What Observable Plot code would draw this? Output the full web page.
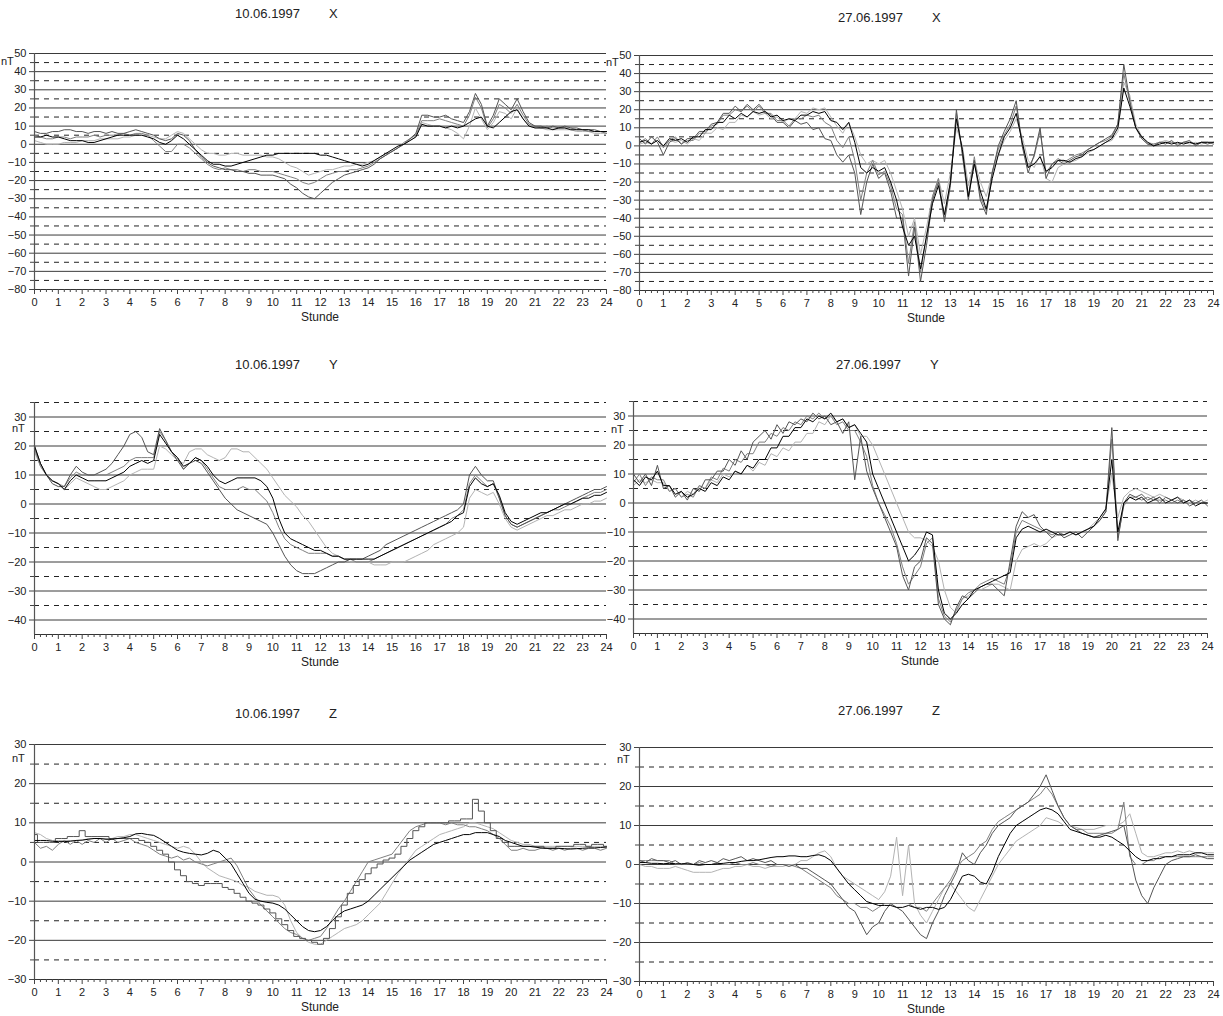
<!DOCTYPE html>
<html><head><meta charset="utf-8">
<script src="https://cdn.jsdelivr.net/npm/d3@7"></script>
<script src="https://cdn.jsdelivr.net/npm/@observablehq/plot@0.6"></script>
<style>
body{margin:0;background:#fff;}
#root{position:relative;width:1223px;height:1016px;font-family:"Liberation Sans",Arial,sans-serif;color:#222;overflow:hidden;}
.ttl{position:absolute;font-size:13px;white-space:nowrap;line-height:13px;}
.nt{position:absolute;font-size:11px;line-height:11px;}
.xl{position:absolute;font-size:12px;line-height:12px;transform:translateX(-50%);}
.pl{position:absolute;}
</style></head><body><div id="root"></div>
<script>
// ---- tick labels ----
const hourTicks = [0,1,2,3,4,5,6,7,8,9,10,11,12,13,14,15,16,17,18,19,20,21,22,23,24];
const xLabelsX = [50,40,30,20,10,0,-10,-20,-30,-40,-50,-60,-70,-80];
const xDashX = [45,35,25,15,5,-5,-15,-25,-35,-45,-55,-65,-75];
const yLabelsY = [30,20,10,0,-10,-20,-30,-40];
const yDashY = [35,25,15,5,-5,-15,-25,-35];
const zLabelsZ = [30,20,10,0,-10,-20,-30];
const zDashZ = [25,15,5,-5,-15,-25];
const seriesNames = ["Station 1","Station 2","Station 3","Station 4"];
const seriesColors = ["#000000","#555555","#808080","#b3b3b3"];

// ---- values every 15 minutes, 0..24 h ----
// 10.06.1997 X
const x1006_s1 = [4,4,5,4, 4,3,2,2, 2,1,1,2, 3,4,5,5, 5,5,5,4, 3,1,0,2, 5,3,0,-3, -6,-9,-11,-11, -12,-12,-11,-10, -9,-8,-7,-6, -6,-5,-5,-5, -5,-5,-5,-5, -6,-6,-7,-8, -9,-10,-11,-12, -11,-9,-7,-5, -3,-1,0,2, 4,11,10,10, 10,9,10,9, 10,12,14,15, 10,9,12,15, 18,19,14,10, 9,9,9,8, 9,9,8,8, 8,8,7,7, 7];
const x1006_s2 = [7,6,6,7, 7,8,8,7, 7,6,7,7, 6,7,6,6, 7,8,7,6, 5,3,2,3, 6,5,2,-3, -7,-10,-12,-13, -14,-14,-15,-15, -16,-16,-17,-17, -17,-18,-19,-22, -24,-27,-29,-30, -27,-24,-21,-19, -17,-16,-15,-14, -13,-11,-8,-6, -4,-2,0,3, 6,16,16,15, 15,16,14,13, 12,18,28,22, 10,16,25,22, 19,25,18,12, 10,10,9,10, 9,10,9,9, 8,8,8,7, 7];
const x1006_s3 = [5,4,3,3, 4,4,3,4, 4,4,5,4, 5,5,5,6, 5,6,6,5, 2,-1,-4,-4, 0,0,-2,-5, -8,-11,-13,-14, -13,-14,-14,-15, -14,-14,-15,-15, -15,-16,-17,-18, -19,-21,-22,-21, -19,-17,-16,-15, -15,-14,-14,-13, -12,-10,-8,-6, -4,-2,1,3, 5,13,13,13, 14,13,12,11, 10,16,26,20, 9,14,22,20, 17,22,16,11, 10,9,10,9, 9,9,9,8, 8,7,7,7, 6];
const x1006_s4 = [2,1,0,0, 0,1,1,1, 2,2,2,3, 3,3,3,4, 4,5,5,5, 4,3,3,5, 7,6,3,0, -3,-5,-5,-6, -6,-5,-5,-6, -6,-6,-6,-7, -7,-8,-10,-12, -13,-15,-17,-16, -15,-14,-14,-13, -12,-12,-11,-11, -10,-9,-7,-5, -4,-2,0,2, 4,12,11,10, 10,9,8,6, 3,10,20,14, 8,12,18,17, 14,20,14,10, 9,9,8,8, 8,8,8,7, 7,7,6,6, 6];
// 27.06.1997 X
const x2706_s1 = [2,3,1,3, 0,4,3,4, 2,5,5,9, 9,13,13,17, 15,18,16,19, 18,19,16,17, 14,15,14,17, 17,19,18,19, 14,13,9,13, 2,-12,-15,-12, -14,-12,-20,-30, -45,-55,-50,-68, -50,-32,-22,-38, -20,15,-2,-28, -10,-25,-35,-18, -5,5,10,18, 2,-12,-10,-6, -14,-12,-8,-8, -9,-7,-6,-3, -2,0,2,4, 10,32,22,10, 5,2,0,1, 2,1,2,1, 2,1,2,2, 2];
const x2706_s2 = [4,1,5,2, -5,2,4,1, 4,4,8,8, 12,13,18,18, 22,19,23,20, 23,19,17,13, 13,10,14,12, 13,9,10,4, 3,-5,-9,-5, -15,-38,-20,-10, -18,-15,-25,-40, -40,-72,-45,-75, -55,-30,-20,-42, -22,20,-5,-30, -8,-30,-38,-15, 0,8,15,25, 0,-15,-5,10, -18,-10,-8,-10, -8,-6,-5,-2, 0,2,4,6, 12,45,25,10, 4,1,0,2, 1,3,0,2, 3,0,2,1, 2];
const x2706_s3 = [2,4,1,5, -1,3,5,1, 3,3,7,7, 11,12,17,17, 20,19,22,19, 22,18,18,14, 14,11,15,15, 17,16,17,13, 11,3,-1,5, -8,-30,-15,-8, -16,-14,-22,-35, -38,-65,-42,-70, -50,-28,-18,-40, -20,18,-4,-28, -6,-28,-36,-14, -2,6,12,22, 2,-12,-6,8, -15,-10,-7,-9, -7,-5,-4,-2, 0,2,3,5, 12,40,24,10, 4,1,1,2, 2,2,1,2, 2,1,2,2, 1];
const x2706_s4 = [1,2,1,3, -1,3,2,3, 1,4,3,7, 7,10,9,13, 13,17,16,19, 17,18,15,16, 13,15,15,19, 18,21,20,21, 16,11,7,13, 5,-5,-10,-8, -10,-8,-15,-25, -35,-50,-40,-60, -45,-28,-18,-32, -15,10,0,-22, -8,-20,-28,-15, -5,3,8,15, 5,-8,-12,-5, -18,-20,-12,-10, -9,-8,-6,-4, -2,0,2,3, 8,35,28,12, 5,2,1,2, 3,2,1,2, 1,2,1,2, 1];
// 10.06.1997 Y
const y1006_s1 = [20,14,10,8, 7,5,8,10, 9,8,8,8, 8,9,10,11, 13,14,15,14, 15,24,21,18, 16,13,14,16, 15,13,10,8, 7,8,9,9, 9,9,8,6, 2,-5,-10,-12, -13,-14,-15,-16, -16,-17,-18,-18, -19,-19,-19,-19, -19,-19,-18,-17, -16,-15,-14,-13, -12,-11,-10,-9, -8,-7,-6,-4, -3,6,9,7, 6,7,3,-3, -6,-7,-6,-5, -4,-3,-3,-2, -1,0,0,1, 2,2,3,3, 4];
const y1006_s2 = [20,14,10,7, 6,6,10,13, 11,10,10,11, 12,14,17,20, 24,25,23,18, 17,26,22,18, 15,12,14,15, 14,11,8,5, 2,0,-2,-3, -4,-5,-6,-7, -10,-14,-18,-21, -23,-24,-24,-24, -23,-22,-21,-20, -20,-19,-19,-19, -18,-17,-16,-14, -13,-12,-11,-10, -9,-8,-7,-6, -5,-4,-3,-2, 0,10,13,10, 8,8,2,-4, -7,-8,-7,-6, -5,-4,-3,-2, -1,0,1,2, 3,4,5,5, 6];
const y1006_s3 = [19,13,10,8, 7,6,9,11, 10,10,10,10, 10,11,12,13, 15,16,16,16, 16,25,22,18, 16,12,14,16, 15,12,9,6, 5,5,5,6, 5,5,3,1, -3,-8,-12,-14, -15,-16,-17,-17, -17,-17,-18,-18, -19,-19,-20,-20, -20,-19,-18,-17, -16,-15,-14,-13, -12,-11,-10,-9, -8,-7,-5,-4, -2,7,10,8, 6,7,2,-4, -7,-8,-7,-6, -5,-4,-3,-2, -2,-1,0,1, 2,3,4,4, 5];
const y1006_s4 = [18,13,10,8, 7,5,7,9, 8,7,6,5, 5,6,7,8, 10,11,12,12, 12,20,19,17, 15,14,18,19, 19,17,16,15, 16,19,19,18, 18,16,14,12, 9,6,3,1, -1,-4,-6,-9, -12,-15,-17,-18, -19,-20,-20,-20, -20,-21,-21,-21, -20,-20,-20,-19, -18,-17,-16,-14, -13,-12,-11,-10, -8,2,5,4, 3,4,0,-5, -8,-9,-8,-7, -6,-5,-4,-4, -3,-2,-2,-1, 0,0,1,1, 2];
// 27.06.1997 Y
const y2706_s1 = [8,6,9,8, 11,6,6,3, 4,2,3,5, 4,7,6,9, 8,11,10,13, 12,15,15,19, 19,23,23,26, 26,29,28,30, 29,31,28,29, 26,27,24,21, 10,5,0,-5, -10,-15,-20,-18, -15,-10,-11,-30, -38,-40,-38,-35, -33,-30,-29,-28, -27,-26,-25,-24, -12,-9,-8,-9, -10,-9,-10,-11, -11,-10,-11,-10, -9,-8,-5,-2, 15,-10,0,2, 1,2,0,1, 2,0,1,2, 0,1,-1,0, 0];
const y2706_s2 = [10,7,10,6, 13,5,6,2, 4,1,5,4, 8,8,11,11, 15,13,18,15, 21,23,25,22, 27,24,28,27, 29,28,31,29, 30,27,28,24, 28,8,23,11, 5,0,-5,-10, -15,-25,-30,-22, -20,-12,-14,-35, -40,-42,-36,-32, -33,-31,-29,-28, -28,-30,-32,-20, -8,-3,-5,-4, -8,-10,-12,-10, -12,-11,-10,-12, -10,-8,-6,-3, 26,-13,0,3, 2,3,1,2, 0,2,1,0, 1,-1,0,1, -1];
const y2706_s3 = [7,10,6,9, 8,8,4,5, 2,3,2,6, 5,9,8,12, 11,15,14,17, 17,21,21,24, 23,26,25,28, 27,30,29,31, 29,30,27,28, 25,25,21,16, 6,0,-4,-8, -14,-22,-28,-25, -22,-14,-12,-33, -39,-41,-37,-33, -31,-30,-28,-27, -26,-27,-28,-22, -10,-6,-7,-8, -9,-10,-11,-10, -11,-10,-11,-10, -9,-8,-6,-3, 22,-12,-1,2, 2,1,2,1, 1,1,0,1, 0,1,0,0, 0];
const y2706_s4 = [6,8,7,8, 7,7,4,5, 2,4,3,6, 5,8,7,10, 9,11,10,13, 11,14,13,17, 16,19,18,21, 21,24,24,28, 27,30,28,29, 26,27,23,23, 20,15,10,5, 0,-5,-10,-12, -12,-13,-15,-20, -30,-36,-38,-33, -32,-30,-30,-29, -28,-28,-29,-30, -20,-16,-15,-14, -15,-14,-12,-11, -10,-10,-11,-10, -9,-7,-5,-2, 10,-5,2,4, 5,4,3,2, 3,2,1,2, 1,0,1,0, 1];
// 10.06.1997 Z
const z1006_s1 = [5.5,5.5,5.5,5.3, 5.2,5.2,5.3,5.5, 5.6,5.8,6,6, 5.8,5.8,6,6.2, 6.5,7.2,7.3,7, 6.8,6,5,4, 3,2.5,2.2,2, 1.8,2.2,3,2.5, 1,-0.5,-3,-5.5, -8,-9.5,-10,-10.3, -10.5,-11,-12,-13.5, -15,-16.5,-17.5,-17.8, -17.5,-16.5,-15,-13.5, -12.5,-12,-11.5,-11, -10,-8.5,-7,-5.5, -4,-2.5,-1,0.5, 1.5,2.5,3.5,4.5, 5,5.5,6,6.5, 7,7,7.5,7.5, 7.5,7,6.5,5.5, 5,4.5,4,4, 3.8,3.6,3.5,3.5, 3.5,3.4,3.3,3.4, 3.5,3.6,3.6,3.7, 3.8];
const z1006_s2 = [7,5,5,5, 6,6,6.5,6.5, 8,6.5,6.5,6.5, 6.5,6,6,6, 6,6,5.5,5, 4,3,2,0, -2,-3.5,-5,-5.5, -6,-5.5,-5.5,-5.5, -6.5,-7,-8,-9, -10,-10.5,-11,-12, -13,-14.5,-16,-17.5, -19,-19.5,-20,-20.5, -21,-19.5,-17,-14, -11,-8,-6,-4.5, -3,-1.5,-0.5,0.5, 1,2,4,6, 8,9,10,10, 10,10,10.5,10.5, 11,11,16,13, 10,8,6,5, 4,4,4,4, 4,4,3.5,3.5, 4,4,4,4.5, 4.5,4,4.5,4.5, 4];
const z1006_s3 = [5,3.5,4,3, 4.5,5.5,4.5,5.5, 4.5,5.5,5,6, 5,6,5,5.5, 6,5,4.5,4, 3,2,1.5,1, 1.5,0.5,1,0, -0.5,-1,-0.5,0, 0.5,1,-1,-4, -7,-9,-11,-12.5, -14,-15.5,-17,-18, -18.5,-19.5,-20,-19.5, -19,-17,-14.5,-12, -10,-7.5,-5,-2.5, 0,0.5,1,1.5, 2,4,6,8, 9,9.5,10,10, 10,9.5,10,9.5, 9.5,9,9,8.5, 8,7,6,4.5, 3,3,3.5,3, 3,3.5,3.5,3, 3.5,3,3.5,3.5, 3,3.5,3.5,3, 3.5];
const z1006_s4 = [7.5,7,6,5.5, 5.5,5.5,5.5,5.5, 5.5,6,6,6, 6,6,6.5,6.5, 7,7,6.5,6, 5.5,5,4.5,4, 3.5,4,3.5,2, 0,-1.5,-2.5,-3.5, -4,-4.5,-5,-6, -6.5,-7.5,-8,-8.5, -8.5,-9,-11,-15, -18,-19.5,-20.5,-21, -21,-20,-19,-18, -17,-16.5,-16,-15, -13.5,-12,-10.5,-8, -5.5,-3,-1,1, 3,4,5,6, 7,7.5,8,8.5, 9,10,10,9.5, 9,8.5,7.5,6.5, 5.5,5,4.5,4.5, 4,4,4,4, 4,4,4,4, 4,4,4,4, 4];
// 27.06.1997 Z
const z2706_s1 = [0.5,0.5,0.3,0.3, 0.2,0.3,0.2,0.2, 0.2,0,-0.2,0, 0,0.2,0.3,0.5, 0.5,0.8,1,1, 1.2,1.5,1.8,2, 2,2.2,2.2,2, 2,2.3,2.5,2, 1,-1,-3,-5, -6.5,-8,-9.5,-10, -10.5,-10.5,-10.5,-11, -11,-10.5,-11,-11.5, -11,-11,-11.5,-11, -9,-6,-3,-2.5, -3,-4.5,-5,-2, 2,5,8,10, 11,12,13,14, 14.5,14,13,11, 9,8.5,8,7.5, 7,7,7.5,7, 6,5,3.5,2, 1,1,1.5,1.5, 2,2,2.5,2.5, 2.5,3,3,2.5, 2.5];
const z2706_s2 = [1,0.5,1.5,1, 1,0.5,1,0, 0.5,0,1,0.5, 1,0.5,1.5,1, 1.5,2,1,1.5, 1,0.5,1,0, 0,-0.5,0,-1, -1,-2,-3,-4, -5,-7,-9,-11, -12,-15,-18,-16, -15,-12,-10,-11, -12,-14,-16,-18, -19,-15,-12,-8, -5,-2,3,1, 0,3,5,8, 10,11,12,14, 15,16,18,20, 23,19,15,12, 10,9,8,7.5, 7,7.5,8,8.5, 9,10,3,-4, -8,-10,-6,-3, 0,1,1.5,2, 2,2.5,2,1.5, 1.5];
const z2706_s3 = [1,1,1,1, 1,1,0,0, 0,0,0.5,0, 0,0.5,0,0, 0.5,0,0,0.5, 0,0,-0.5,0, 0,0,-0.5,-1, -2,-3,-4,-5, -6,-8,-9,-10, -10,-11,-11,-12, -11,-10,-10,-10, -10,-10,-11,-11, -12,-10,-8,-6, -4,-1,1,2, 3,5,6,9, 11,12,13,14, 15,16,17,18, 20,18,15,12, 10,9,9,8, 8,8,8,8, 9,16,2,0, 0,1,1,2, 2,2,2,2, 2,2,2,2, 2];
const z2706_s4 = [0,-0.5,-0.5,-1, -1,-1,-0.5,-1, -1.5,-2,-2,-2, -2,-1.5,-1,-1, -0.5,-0.5,0,-0.5, -0.5,-1,-0.5,-0.5, -0.5,0,0,1, 1,2,3,3.5, 2,-1,-3,-4, -5,-6,-7,-8, -9,-7,-3,7, -8,5,-10,-13, -15,-12,-9,-6, -5,-7,-9,-11, -12,-9,-6,-3, 0,2,4,6, 7,8,9,10, 12,11.5,11,10, 10,9.5,9,9, 9,9.5,10,10, 10,11,13,8, 3,2,2,2.5, 3,3,3.5,3, 3.5,3,3,3, 3];

const minorX = d3.range(0, 24.001, 0.25).filter(d => d % 1 !== 0);

const panels = [
  {series:[x1006_s1,x1006_s2,x1006_s3,x1006_s4], dom:[-80,50], labels:xLabelsX, dash:xDashX,
   left:0, top:0, w:612, h:320, ml:34, mr:6, mt:53, mb:31, date:"10.06.1997", comp:"X", dx:235, cx:329, ty:14, ntx:1, nty:62},
  {series:[x2706_s1,x2706_s2,x2706_s3,x2706_s4], dom:[-80,50], labels:xLabelsX, dash:xDashX,
   left:605, top:0, w:618, h:320, ml:34, mr:10, mt:55, mb:30, date:"27.06.1997", comp:"X", dx:838, cx:932, ty:18, ntx:606, nty:63},
  {series:[y1006_s1,y1006_s2,y1006_s3,y1006_s4], dom:[-45,35], labels:yLabelsY, dash:yDashY,
   left:0, top:330, w:612, h:340, ml:34, mr:6, mt:72, mb:36, date:"10.06.1997", comp:"Y", dx:235, cx:329, ty:365, ntx:12, nty:429},
  {series:[y2706_s1,y2706_s2,y2706_s3,y2706_s4], dom:[-45,35], labels:yLabelsY, dash:yDashY,
   left:599, top:330, w:618, h:340, ml:34, mr:10, mt:71, mb:37, date:"27.06.1997", comp:"Y", dx:836, cx:930, ty:365, ntx:611, nty:430},
  {series:[z1006_s1,z1006_s2,z1006_s3,z1006_s4], dom:[-30,30], labels:zLabelsZ, dash:zDashZ, step:1,
   left:0, top:680, w:612, h:336, ml:34, mr:6, mt:64, mb:37, date:"10.06.1997", comp:"Z", dx:235, cx:329, ty:714, ntx:12, nty:759},
  {series:[z2706_s1,z2706_s2,z2706_s3,z2706_s4], dom:[-30,30], labels:zLabelsZ, dash:zDashZ,
   left:605, top:680, w:618, h:336, ml:34, mr:10, mt:67, mb:35, date:"27.06.1997", comp:"Z", dx:838, cx:932, ty:711, ntx:617, nty:760}
];

const root = document.getElementById("root");
function addDiv(cls, text, left, top) {
  const d = document.createElement("div");
  d.className = cls; d.textContent = text;
  d.style.left = left + "px"; d.style.top = top + "px";
  root.appendChild(d); return d;
}

for (const p of panels) {
  const lineMarks = [];
  for (let k = 3; k >= 0; k--) {
    const rows = p.series[k].map((v, i) => ({t: i * 0.25, v, s: seriesNames[k]}));
    lineMarks.push(Plot.line(rows, {x: "t", y: "v", stroke: seriesColors[k], strokeWidth: 1,
      curve: (p.step && k === 1) ? "step" : "linear"}));
  }
  const solid = p.labels.filter(v => v !== p.dom[0]);
  const svg = Plot.plot({
    width: p.w, height: p.h,
    marginLeft: p.ml, marginRight: p.mr, marginTop: p.mt, marginBottom: p.mb,
    x: {domain: [0, 24]},
    y: {domain: p.dom},
    style: {fontFamily: "'Liberation Sans', Arial, sans-serif", fontSize: "11px", color: "#222", background: "transparent", overflow: "visible"},
    marks: [
      Plot.ruleY(p.dash, {stroke: "#222", strokeWidth: 1, strokeDasharray: "5,5"}),
      Plot.ruleY(solid, {stroke: "#3a3a3a", strokeWidth: 1}),
      ...lineMarks,
      Plot.ruleX([0], {stroke: "#555", strokeWidth: 1.2}),
      Plot.ruleY([p.dom[0]], {stroke: "#333", strokeWidth: 1.2}),
      Plot.axisY(p.labels, {tickSize: 5, tickPadding: 3, label: null, stroke: "#444"}),
      Plot.axisY(p.dash, {tickSize: 4, tickFormat: () => "", label: null, stroke: "#444"}),
      Plot.axisX(hourTicks, {tickSize: 5, tickPadding: 4, label: null, stroke: "#444"}),
      Plot.axisX(minorX, {tickSize: 3, tickFormat: () => "", label: null, stroke: "#444"})
    ]
  });
  svg.classList.add("pl");
  svg.style.left = p.left + "px"; svg.style.top = p.top + "px";
  root.appendChild(svg);
  addDiv("ttl", p.date, p.dx, p.ty - 7);
  addDiv("ttl", p.comp, p.cx, p.ty - 7);
  addDiv("nt", "nT", p.ntx, p.nty - 6);
  const x0 = p.left + p.ml, x1 = p.left + p.w - p.mr;
  addDiv("xl", "Stunde", (x0 + x1) / 2, p.top + p.h - p.mb + 22);
}
</script></body></html>
